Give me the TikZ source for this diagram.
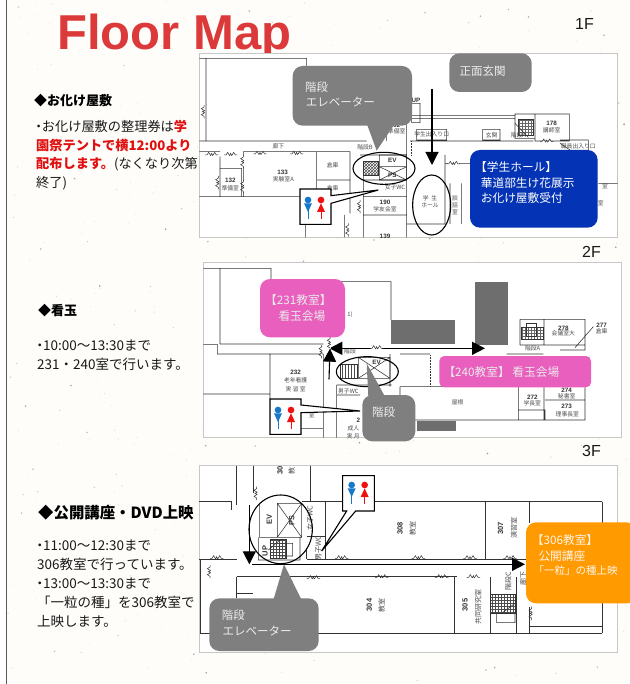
\documentclass[tikz,border=0pt]{standalone}
\usepackage{fontspec}
\setmainfont{Noto Sans CJK JP}
\newfontfamily\arialf{Liberation Sans}
\usetikzlibrary{arrows.meta,patterns}
\definecolor{pagebg}{HTML}{FEFDF9}
\definecolor{calloutgray}{HTML}{7F7F7F}
\definecolor{halfblue}{HTML}{0433B5}
\definecolor{pinkbox}{HTML}{E95FBE}
\definecolor{orangebox}{HTML}{FF9A00}
\definecolor{txtred}{HTML}{E01010}
\definecolor{wcblue}{HTML}{1678C8}
\definecolor{wcred}{HTML}{F01010}
\definecolor{titlered}{HTML}{DC3A3A}
\definecolor{hatchgray}{HTML}{6E6E6E}
\newcommand{\tightdot}{\hspace*{-4pt}・\hspace{-3.5pt}}
\tikzset{
  x=1pt,y=-1pt,
  panel/.style={fill=white,draw=black!22,line width=0.8pt},
  plan/.style={draw=black!80,line width=0.55pt},
  plantxt/.style={inner sep=0pt,text=black!70,font=\fontsize{5.8}{6.8}\selectfont,align=center},
  planbold/.style={inner sep=0pt,text=black!80,font=\arialf\bfseries\fontsize{6.3}{7}\selectfont,align=center},
  calloutbox/.style={fill=calloutgray,rounded corners=10pt},
  callouttxt/.style={inner sep=0pt,anchor=base west,text=white!93!black,font=\fontsize{11.5}{15}\selectfont},
  whitetxt/.style={inner sep=0pt,anchor=base west,text=white,font=\fontsize{11.7}{15}\selectfont},
  side/.style={inner sep=0pt,anchor=north west,align=left,text=black!90,font=\fontsize{13.5}{19}\selectfont},
  sidehead/.style={inner sep=0pt,anchor=base west,text=black,font=\bfseries\fontsize{13}{15}\selectfont},
  floorlabel/.style={inner sep=0pt,anchor=base west,text=black!90,font=\arialf\fontsize{16}{18}\selectfont},
  ring/.style={draw=black,line width=1.1pt},
  arrthin/.style={draw=black,line width=1.1pt,-{Triangle[length=13pt,width=13pt]}},
  arrthick/.style={draw=black,line width=1.6pt,{Triangle[length=13pt,width=13pt]}-{Triangle[length=13pt,width=13pt]}},
  arrright/.style={draw=black,line width=1.6pt,-{Triangle[length=13pt,width=13pt]}},
  wcbox/.style={fill=white,draw=black,line width=1.1pt,line join=miter},
  dh/.pic={
    \draw[white,line width=1.2pt] (-16,0)--(16,0);
    \draw[draw=black!80,line width=0.5pt] (-20,0)--(-14,0)--(-9,-8)--(-3,2) (3,2)--(9,-8)--(14,0)--(20,0) (-3,2)--(0,-5)--(3,2);
  },
  wcicon/.pic={
    \fill[wcblue] (0,0) circle (10);
    \fill[wcblue] (-12,10)--(12,10)--(0,36)--cycle;
    \draw[wcblue,line width=0.9pt] (0,30)--(0,58);
    \fill[wcred] (39,0) circle (10);
    \fill[wcred] (27,36)--(51,36)--(39,10)--cycle;
    \draw[wcred,line width=0.9pt] (39,30)--(39,58);
  }
}
\begin{document}
\begin{tikzpicture}
\useasboundingbox (0,0) rectangle (629,684);
\fill[pagebg] (0,0) rectangle (629,684);
\fill[white] (0,0) rectangle (6,684);
% speckles
\pgfmathsetseed{4242}
\foreach \k in {1,...,420}{
  \pgfmathsetmacro{\sx}{7+rnd*622}
  \pgfmathsetmacro{\sy}{rnd*684}
  \pgfmathsetmacro{\sr}{0.25+0.5*rnd}
  \pgfmathsetmacro{\so}{0.12+0.45*rnd}
  \fill[black!55!orange!60!white,opacity=\so] (\sx,\sy) circle (\sr);
}
\foreach \k in {1,...,70}{
  \pgfmathsetmacro{\sx}{7+rnd*622}
  \pgfmathsetmacro{\sy}{rnd*684}
  \pgfmathsetmacro{\so}{0.3+0.4*rnd}
  \fill[black!60,opacity=\so] (\sx,\sy) circle (0.9);
}
\draw[black!65,line width=0.9pt] (6.5,0) -- (6.5,684);

% title
\node[inner sep=0pt,anchor=base west,text=titlered,font=\arialf\bfseries\fontsize{49}{50}\selectfont] (title) at (57,50) {Floor Map};

% floor labels
\node[floorlabel] (f1) at (575,30) {1F};
\node[floorlabel] (f2) at (582,258) {2F};
\node[floorlabel] (f3) at (582,456) {3F};

% side text
\node[sidehead] (h1) at (34,106) {◆お化け屋敷};
\node[side,font=\fontsize{13.2}{18.6}\selectfont] (b1) at (36,120) {\tightdot お化け屋敷の整理券は{\bfseries\color{txtred}学}\\{\bfseries\color{txtred}園祭テントで横12:00より}\\{\bfseries\color{txtred}配布します。}(なくなり次第\\終了)};
\node[sidehead] (h2) at (38,315) {◆看玉};
\node[side] (b2) at (37,340) {\tightdot 10:00～13:30まで\\231・240室で行います。};
\node[sidehead,font=\bfseries\fontsize{15.4}{17}\selectfont] (h3) at (38,518) {◆公開講座・DVD上映};
\node[side] (b3) at (37,540) {\tightdot 11:00～12:30まで\\306教室で行っています。\\\tightdot 13:00～13:30まで\\「一粒の種」を306教室で\\上映します。};

% ===== 1F =====
\begin{scope}[shift={(190,40)},x=0.33333pt,y=-0.33333pt]
\fill[panel] (28,40) rectangle (1283,592);
\draw[plan] (28,55)--(350,55)--(350,85) (48,55)--(48,303) (28,303)--(530,303)
 (28,470)--(330,470) (160,335)--(480,335) (160,335)--(160,470) (380,335)--(380,470)
 (90,385)--(155,385)--(155,470) (90,385)--(90,470) (90,350)--(90,385) (28,335)--(90,335)
 (380,420)--(480,420) (420,470)--(480,470) (480,335)--(480,520) (347,553)--(347,592)
 (463,525)--(463,592) (510,345)--(650,345) (520,405)--(520,592) (520,420)--(650,420)
 (520,470)--(650,470) (520,525)--(650,525) (650,240)--(650,592)
 (665,190)--(690,190)--(690,248)--(665,248)--cycle
 (666,235)--(975,235) (666,226)--(975,226) (590,250)--(590,303)
 (680,268)--(770,268)--(770,300)--(680,300)--cycle (878,268)--(930,268)--(930,300)--(878,300)--cycle
 (660,303)--(1030,303) (1035,222)--(1138,222)--(1138,303)--(1035,303)--cycle
 (975,222)--(1035,222)--(1035,295)--(975,295)--cycle
 (1110,300)--(1195,300)--(1195,330) (1110,310)--(1140,330)
 (765,345)--(765,552) (650,552)--(765,552) (780,430)--(780,552) (815,430)--(815,552)
 (765,370)--(840,370) (1225,430)--(1283,430);
\draw[plan,densely dotted] (665,303)--(665,345);
\draw[plan] (568,345) rectangle (650,380) (568,380) rectangle (650,420) (568,380)--(650,420) (568,420)--(650,380);
\draw[plan,pattern=crosshatch,pattern color=black!70] (520,365) rectangle (565,405);
\draw[plan,pattern=grid,pattern color=black!60] (985,238) rectangle (1030,285);
\draw[plan] (975,250)--(1015,292);
\pic at (65,345) {dh};
\pic at (210,342) {dh};
\pic at (320,342) {dh};
\pic[rotate=90] at (42,215) {dh};
\pic[rotate=90] at (160,365) {dh};
\pic[rotate=90] at (160,440) {dh};
\pic[rotate=90] at (85,428) {dh};
\pic at (122,345) {dh};
\pic[rotate=90] at (475,570) {dh};
\pic[rotate=90] at (510,500) {dh};
\pic at (790,372) {dh};
\pic at (1070,305) {dh};
\foreach \lx/\ly/\lt [count=\i] in {
 265/318/廊下, 280/418/実験室A, 121/445/準備室, 428/377/倉庫, 428/445/倉庫, 525/322/階段B,
 615/442/女子WC, 585/507/学友会室, 720/485/学\ \ 生\\ホール, 795/495/談\\話\\室, 985/285/階段A, 905/285/玄関,
 1085/272/講師室, 725/284/学生出入り口, 620/273/準備室, 1165/318/職員出入り口, 1245/440/室, 1232/490/室}
 \node[plantxt,name=pa\i] at (\lx,\ly) {\lt};
\foreach \lx/\ly/\lt [count=\i] in {
 278/396/133, 121/420/132, 585/488/190, 585/590/139, 1085/250/178, 678/182/UP, 607/362/EV, 607/405/PS, 620/257/02}
 \node[planbold,name=pb\i] at (\lx,\ly) {\lt};
% callouts
\fill[calloutbox] (308,78) rectangle (666,257);
\fill[calloutgray] (530,250)--(615,250)--(560,332)--cycle;
\node[callouttxt] (c1a) at (345,156) {階段};
\node[callouttxt] (c1b) at (347,200) {エレベーター};
\fill[calloutbox] (778,40) rectangle (1025,156);
\node[callouttxt] (c1c) at (808,108) {正面玄関};
% rings
\draw[ring] (582,385) ellipse [x radius=93,y radius=48];
\draw[ring] (725,495) ellipse [x radius=57,y radius=90];
\coordinate (a1s) at (726,147);
\coordinate (a1e) at (726,375);
\draw[arrthin] (a1s)--(a1e);
% blue box
\fill[fill=halfblue,rounded corners=10pt] (840,330) rectangle (1223,563);
\node[whitetxt] (bl1) at (855,394) {【学生ホール】};
\node[whitetxt] (bl2) at (872,442) {華道部生け花展示};
\node[whitetxt] (bl3) at (872,487) {お化け屋敷受付};
% wc
\path[wcbox] (330,447)--(423,447)--(423,467)--(565,450)--(423,490)--(423,553)--(330,553)--cycle;
\pic at (354,480) {wcicon};
\end{scope}

% ===== 2F =====
\begin{scope}[shift={(190,250)},x=0.33333pt,y=-0.33333pt]
\fill[panel] (40,38) rectangle (1293,563);
\draw[plan] (40,55)--(243,55)--(243,90) (90,55)--(90,282) (243,95)--(603,95)--(603,210)
 (90,282)--(400,282) (40,283)--(82,283)--(82,312)--(400,312) (240,312)--(240,447) (40,432)--(240,432)
 (400,312)--(400,563) (333,535)--(400,535) (440,405)--(440,563) (440,405)--(605,405)
 (440,435)--(510,435) (600,312)--(600,410) (630,312)--(720,312) (630,410)--(985,410)
 (630,410)--(630,510)--(985,510) (985,410)--(985,510) (990,208)--(1185,208)--(1185,300)
 (990,208)--(990,285) (1062,208)--(1062,285) (990,285)--(1110,285) (1110,285)--(1185,285)
 (1110,300)--(1185,300) (1155,293)--(1210,230) (950,312)--(1060,312) (985,480)--(1065,480)--(1065,510)
 (1065,450)--(1185,450) (1185,412)--(1185,510) (985,510)--(1185,510) (1062,412)--(1062,510);
\draw[plan,densely dotted] (722,315)--(722,410);
\fill[hatchgray] (603,210) rectangle (795,282);
\fill[hatchgray] (855,95) rectangle (955,285);
\fill[hatchgray] (680,512) rectangle (797,543);
\draw[plan] (505,322) rectangle (600,385) (505,322)--(600,385) (505,385)--(600,322);
\draw[plan,pattern=vertical lines,pattern color=black!70] (450,342) rectangle (503,385);
\draw[plan,pattern=grid,pattern color=black!60] (995,232) rectangle (1060,268);
\draw[plan] (1010,220) rectangle (1040,260);
\foreach \lx/\ly/\lt [count=\i] in {
 1120/251/会議室大, 1235/245/倉庫, 1028/294/階段A, 1130/440/秘書室, 1027/461/学長室, 1132/492/理事長室,
 317/392/老年看護, 317/417/実\ 習\ 室, 803/458/屋根, 480/305/階段, 475/424/男子WC, 490/535/成人, 490/560/実\ 月, 480/195/1), 365/497/室}
 \node[plantxt,name=qa\i] at (\lx,\ly) {\lt};
\foreach \lx/\ly/\lt [count=\i] in {
 1120/234/278, 1235/226/277, 1130/422/274, 1027/441/272, 1130/470/273, 317/367/232, 560/338/EV, 505/512/2}
 \node[planbold,name=qb\i] at (\lx,\ly) {\lt};
\pic[rotate=90] at (395,305) {dh};
% pink boxes
\fill[pinkbox,rounded corners=10pt] (210,87) rectangle (465,262);
\node[whitetxt,text=white!92!black] (pk1) at (225,164) {【231教室】};
\node[whitetxt,text=white!92!black] (pk2) at (265,210) {看玉会場};
\fill[pinkbox,rounded corners=5pt] (748,318) rectangle (1203,412);
\node[whitetxt,text=white!92!black] (pk3) at (760,378) {【240教室】 看玉会場};
% ring
\draw[ring] (532,365) ellipse [x radius=93,y radius=45];
% arrows
\coordinate (a2l) at (418,295);
\coordinate (a2r) at (885,295);
\draw[arrthick] (a2l)--(a2r);
\pic at (560,295) {dh};
\pic[rotate=90] at (420,280) {dh};
\coordinate (a2s) at (417,388);
\coordinate (a2e) at (420,296);
\draw[arrthin] (a2s)--(a2e);
% callout
\fill[calloutbox] (517,435) rectangle (676,574);
\fill[calloutgray] (535,440)--(585,440)--(530,340)--cycle;
\node[callouttxt] (c2a) at (546,500) {階段};
% wc
\path[wcbox] (240,447)--(333,447)--(333,465)--(510,483)--(333,488)--(333,553)--(240,553)--cycle;
\pic at (264,480) {wcicon};
\end{scope}

% ===== 3F =====
\begin{scope}[shift={(190,450)},x=0.33333pt,y=-0.33333pt]
\fill[panel] (28,47) rectangle (1283,608);
\draw[plan] (140,47)--(140,165) (190,47)--(190,130) (362,47)--(362,155) (28,155)--(125,155) (125,155)--(125,180)
 (335,155)--(1237,155) (1237,155)--(1237,548) (885,155)--(885,327) (1017,155)--(1017,220)
 (28,327)--(140,327) (350,327)--(1010,327) (140,380)--(800,380) (30,330)--(30,550) (140,380)--(140,445)
 (792,380)--(792,550) (900,380)--(900,550) (30,550)--(1237,550) (980,380)--(980,550)
 (1017,470)--(1017,550) (1017,530)--(1237,530) (405,155)--(405,327) (350,260)--(405,260)
 (350,295)--(350,327) (140,430)--(190,430);
\draw[plan] (208,160)--(208,262) (208,262)--(330,262)--(330,330) (262,160) rectangle (335,262)
 (262,160)--(335,262) (262,262)--(335,160) (205,262)--(205,330)--(330,330);
\draw[plan,pattern=grid,pattern color=black!70] (240,268) rectangle (290,325);
\draw[plan] (268,280) rectangle (308,318) (235,300)--(270,270);
\draw[plan,pattern=grid,pattern color=black!70] (900,432) rectangle (975,490);
\draw[plan] (920,490) rectangle (975,518) (935,490)--(975,460);
\foreach \px/\py in {455/325,685/325,840/325,960/325,80/325}{\pic at (\px,\py) {dh};}
\foreach \px/\py in {370/385,575/382,755/382,850/382}{\pic at (\px,\py) {dh};}
\pic[rotate=90] at (200,130) {dh};
\pic[rotate=90] at (60,365) {dh};
\pic[rotate=90] at (1025,490) {dh};
\foreach \lx/\ly/\lt [count=\i] in {
 305/62/教, 668/235/教室, 972/235/演習室, 575/465/教室, 865/470/共同研究室, 360/205/女子WC, 385/295/男子WC, 955/395/階段C, 1000/385/廊下}
 \node[plantxt,rotate=90,name=ra\i,font=\fontsize{7}{8}\selectfont] at (\lx,\ly) {\lt};
\foreach \lx/\ly/\lt [count=\i] in {
 270/60/30, 630/235/308, 932/235/307, 538/465/304, 825/465/305, 238/208/EV, 305/210/PS, 225/303/UP}
 \node[planbold,rotate=90,name=rb\i,font=\arialf\bfseries\fontsize{7.5}{8}\selectfont] at (\lx,\ly) {\lt};
% ring
\draw[ring] (272,238) ellipse [x radius=95,y radius=103];
% arrows
\coordinate (a3s) at (178,165);
\coordinate (a3e) at (178,343);
\draw[arrthin] (a3s)--(a3e);
\coordinate (a3l) at (187,343);
\coordinate (a3r) at (1005,343);
\draw[arrright] (a3l)--(a3r);
% orange
\fill[orangebox,rounded corners=10pt] (1008,217) rectangle (1340,460);
\node[whitetxt,text=white!92!orange] (or1) at (1025,282) {【306教室】};
\node[whitetxt,text=white!92!orange] (or2) at (1045,330) {公開講座};
\node[whitetxt,text=white!92!orange,font=\fontsize{10.5}{13}\selectfont] (or3) at (1030,373) {「一粒」の種上映};
% callout
\fill[calloutbox] (58,445) rectangle (386,603);
\fill[calloutgray] (250,450)--(335,450)--(282,343)--cycle;
\node[callouttxt] (c3a) at (95,507) {階段};
\node[callouttxt] (c3b) at (97,555) {エレベーター};
% wc
\path[wcbox] (458,77)--(553,77)--(553,183)--(497,183)--(395,303)--(470,183)--(458,183)--cycle;
\pic at (485,105) {wcicon};
\end{scope}
\end{tikzpicture}
\end{document}
